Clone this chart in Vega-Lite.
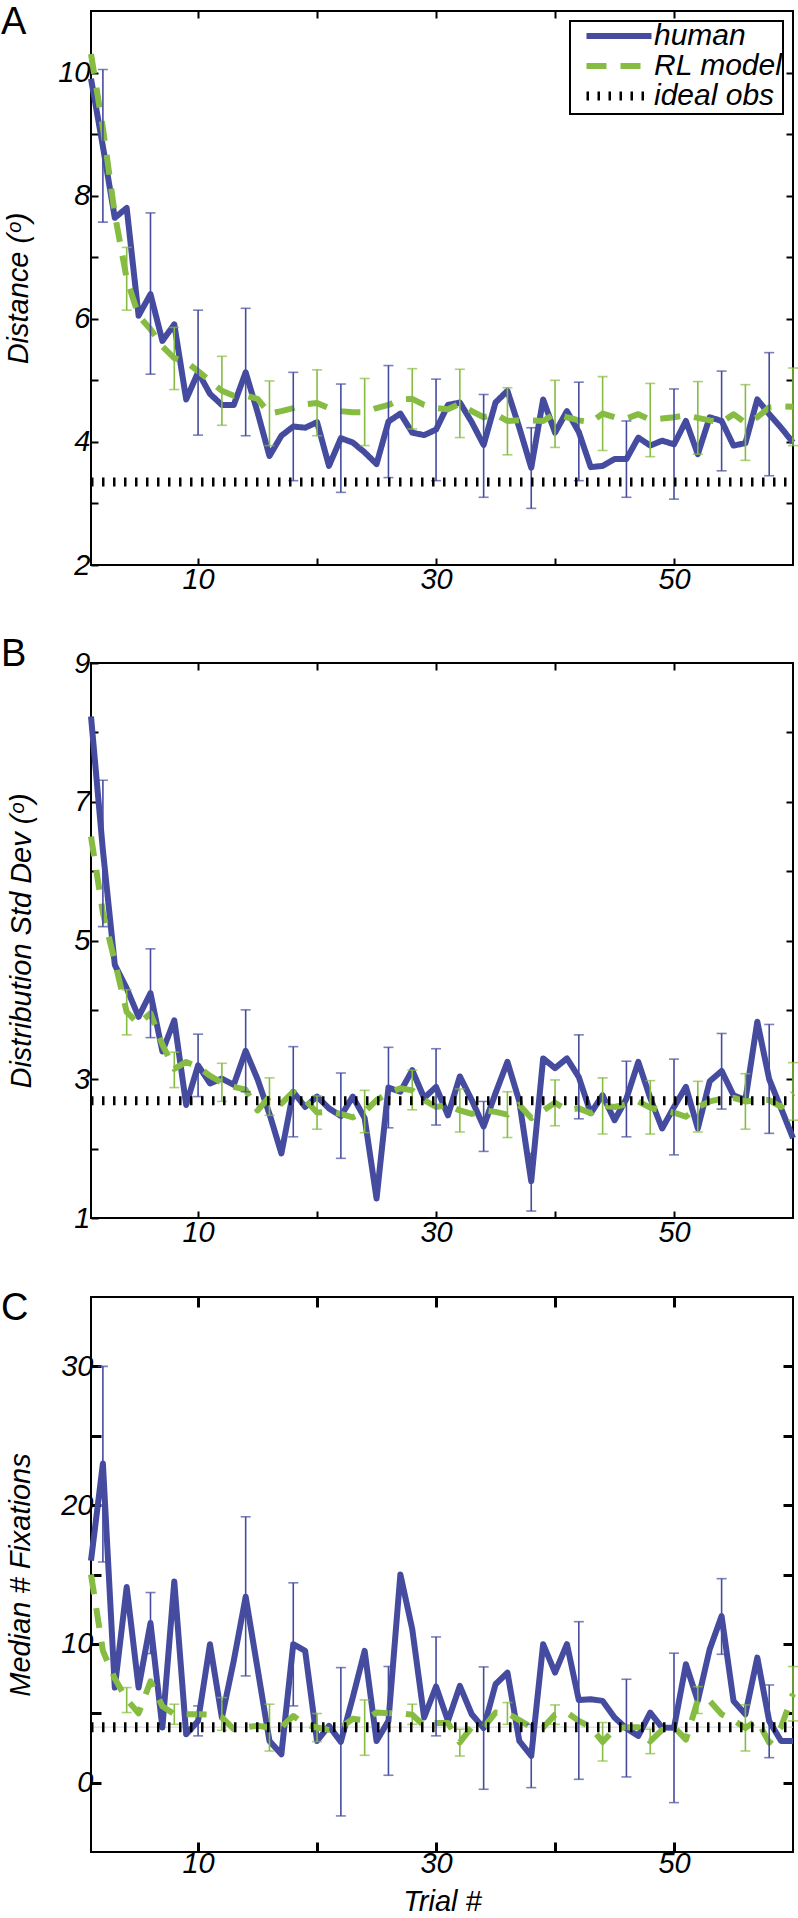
{
  "$schema": "https://vega.github.io/schema/vega-lite/v6.json",
  "padding": {"left": 0, "top": 3, "right": 6, "bottom": 0},
  "spacing": 40,
  "config": {
    "view": {"stroke": "black", "strokeWidth": 2},
    "axis": {
      "labelFont": "Liberation Sans", "labelFontStyle": "italic", "labelFontSize": 29, "labelColor": "black",
      "titleFont": "Liberation Sans", "titleFontStyle": "italic", "titleFontWeight": "normal", "titleFontSize": 29, "titleColor": "black",
      "tickColor": "black", "tickWidth": 2, "tickSize": -7, "domain": false, "grid": false
    },
    "axisX": {"labelPadding": 7},
    "axisY": {"labelPadding": 8},
    "legend": {"title": null, "orient": "top-right", "offset": 10, "symbolType": "M-16.25,0H16.25", "symbolSize": 16, "symbolFillColor": "transparent", "symbolOffset": 34, "labelFont": "Liberation Sans", "labelFontStyle": "italic", "labelFontSize": 30, "labelColor": "black", "strokeColor": "black", "fillColor": "white", "padding": 0, "rowPadding": -9, "labelOffset": 20, "labelLimit": 400},
    "title": {"font": "Liberation Sans", "fontSize": 38, "fontWeight": "normal", "color": "black", "anchor": "start", "frame": "group", "dx": -90, "baseline": "top"}
  },
  "resolve": {"scale": {"color": "independent", "strokeDash": "independent", "strokeWidth": "independent"}},
  "datasets": {
    "A": [
      {"t":1,"human":9.9,"RL model":10.3},{"t":2,"human":8.8,"RL model":9.1},{"t":3,"human":7.64,"RL model":7.7},{"t":4,"human":7.8,"RL model":6.65},{"t":5,"human":6.05,"RL model":6.05},
      {"t":6,"human":6.4,"RL model":5.83},{"t":7,"human":5.64,"RL model":5.55},{"t":8,"human":5.91,"RL model":5.36},{"t":9,"human":4.69,"RL model":5.3},{"t":10,"human":5.13,"RL model":5.15},
      {"t":11,"human":4.78,"RL model":4.99},{"t":12,"human":4.6,"RL model":4.83},{"t":13,"human":4.6,"RL model":4.75},{"t":14,"human":5.13,"RL model":4.75},{"t":15,"human":4.48,"RL model":4.7},
      {"t":16,"human":3.77,"RL model":4.46},{"t":17,"human":4.1,"RL model":4.5},{"t":18,"human":4.25,"RL model":4.55},{"t":19,"human":4.23,"RL model":4.61},{"t":20,"human":4.32,"RL model":4.63},
      {"t":21,"human":3.61,"RL model":4.55},{"t":22,"human":4.06,"RL model":4.5},{"t":23,"human":3.99,"RL model":4.48},{"t":24,"human":3.83,"RL model":4.48},{"t":25,"human":3.64,"RL model":4.55},
      {"t":26,"human":4.33,"RL model":4.6},{"t":27,"human":4.46,"RL model":4.69},{"t":28,"human":4.15,"RL model":4.7},{"t":29,"human":4.11,"RL model":4.6},{"t":30,"human":4.2,"RL model":4.55},
      {"t":31,"human":4.6,"RL model":4.53},{"t":32,"human":4.64,"RL model":4.62},{"t":33,"human":4.32,"RL model":4.5},{"t":34,"human":3.95,"RL model":4.4},{"t":35,"human":4.64,"RL model":4.45},
      {"t":36,"human":4.83,"RL model":4.34},{"t":37,"human":4.23,"RL model":4.35},{"t":38,"human":3.58,"RL model":4.35},{"t":39,"human":4.69,"RL model":4.34},{"t":40,"human":4.15,"RL model":4.46},
      {"t":41,"human":4.5,"RL model":4.4},{"t":42,"human":4.16,"RL model":4.35},{"t":43,"human":3.59,"RL model":4.32},{"t":44,"human":3.61,"RL model":4.46},{"t":45,"human":3.72,"RL model":4.4},
      {"t":46,"human":3.72,"RL model":4.38},{"t":47,"human":4.07,"RL model":4.45},{"t":48,"human":3.94,"RL model":4.36},{"t":49,"human":4.02,"RL model":4.38},{"t":50,"human":3.96,"RL model":4.4},
      {"t":51,"human":4.34,"RL model":4.43},{"t":52,"human":3.8,"RL model":4.39},{"t":53,"human":4.4,"RL model":4.35},{"t":54,"human":4.34,"RL model":4.32},{"t":55,"human":3.94,"RL model":4.45},
      {"t":56,"human":3.98,"RL model":4.31},{"t":57,"human":4.69,"RL model":4.4},{"t":58,"human":4.45,"RL model":4.56},{"t":59,"human":4.23,"RL model":4.58},{"t":60,"human":3.99,"RL model":4.57}
    ],
    "errA": [
      {"t":2,"s":"human","lo":7.57,"hi":10.05},{"t":6,"s":"human","lo":5.1,"hi":7.72},{"t":10,"s":"human","lo":4.11,"hi":6.14},{"t":14,"s":"human","lo":4.1,"hi":6.17},{"t":18,"s":"human","lo":3.37,"hi":5.13},
      {"t":22,"s":"human","lo":3.18,"hi":4.94},{"t":26,"s":"human","lo":3.42,"hi":5.24},{"t":30,"s":"human","lo":3.37,"hi":5.02},{"t":34,"s":"human","lo":3.1,"hi":4.77},{"t":38,"s":"human","lo":2.92,"hi":4.23},
      {"t":42,"s":"human","lo":3.37,"hi":4.97},{"t":46,"s":"human","lo":3.1,"hi":4.34},{"t":50,"s":"human","lo":3.07,"hi":4.86},{"t":54,"s":"human","lo":3.53,"hi":5.15},{"t":58,"s":"human","lo":3.45,"hi":5.45},
      {"t":4,"s":"model","lo":6.14,"hi":7.16},{"t":8,"s":"model","lo":4.85,"hi":5.86},{"t":12,"s":"model","lo":4.27,"hi":5.39},{"t":16,"s":"model","lo":3.94,"hi":4.99},{"t":20,"s":"model","lo":4.1,"hi":5.17},
      {"t":24,"s":"model","lo":3.94,"hi":5.03},{"t":28,"s":"model","lo":4.21,"hi":5.19},{"t":32,"s":"model","lo":4.07,"hi":5.18},{"t":36,"s":"model","lo":3.79,"hi":4.88},{"t":40,"s":"model","lo":3.91,"hi":5.0},
      {"t":44,"s":"model","lo":3.86,"hi":5.06},{"t":48,"s":"model","lo":3.76,"hi":4.95},{"t":52,"s":"model","lo":3.8,"hi":4.98},{"t":56,"s":"model","lo":3.7,"hi":4.93},{"t":60,"s":"model","lo":3.94,"hi":5.2}
    ],
    "idealA": [{"t":1,"series":"ideal obs","value":3.35},{"t":60,"series":"ideal obs","value":3.35}],
    "B": [
      {"t":1,"human":8.23,"RL model":6.5},{"t":2,"human":6.3,"RL model":5.4},{"t":3,"human":4.65,"RL model":4.7},{"t":4,"human":4.31,"RL model":3.97},{"t":5,"human":3.9,"RL model":3.8},
      {"t":6,"human":4.24,"RL model":3.95},{"t":7,"human":3.4,"RL model":3.5},{"t":8,"human":3.85,"RL model":3.15},{"t":9,"human":2.63,"RL model":3.25},{"t":10,"human":3.2,"RL model":3.18},
      {"t":11,"human":2.94,"RL model":3.05},{"t":12,"human":3.01,"RL model":2.95},{"t":13,"human":2.92,"RL model":2.89},{"t":14,"human":3.41,"RL model":2.85},{"t":15,"human":3.0,"RL model":2.55},
      {"t":16,"human":2.5,"RL model":2.75},{"t":17,"human":1.93,"RL model":2.65},{"t":18,"human":2.82,"RL model":2.82},{"t":19,"human":2.6,"RL model":2.7},{"t":20,"human":2.75,"RL model":2.52},
      {"t":21,"human":2.58,"RL model":2.53},{"t":22,"human":2.47,"RL model":2.5},{"t":23,"human":2.75,"RL model":2.45},{"t":24,"human":2.44,"RL model":2.53},{"t":25,"human":1.28,"RL model":2.7},
      {"t":26,"human":2.88,"RL model":2.8},{"t":27,"human":2.82,"RL model":2.87},{"t":28,"human":3.13,"RL model":2.84},{"t":29,"human":2.73,"RL model":2.7},{"t":30,"human":2.89,"RL model":2.6},
      {"t":31,"human":2.48,"RL model":2.63},{"t":32,"human":3.04,"RL model":2.55},{"t":33,"human":2.7,"RL model":2.5},{"t":34,"human":2.32,"RL model":2.55},{"t":35,"human":2.8,"RL model":2.53},
      {"t":36,"human":3.25,"RL model":2.49},{"t":37,"human":2.68,"RL model":2.63},{"t":38,"human":1.53,"RL model":2.44},{"t":39,"human":3.3,"RL model":2.55},{"t":40,"human":3.16,"RL model":2.66},
      {"t":41,"human":3.3,"RL model":2.56},{"t":42,"human":3.03,"RL model":2.58},{"t":43,"human":2.51,"RL model":2.51},{"t":44,"human":2.77,"RL model":2.62},{"t":45,"human":2.41,"RL model":2.6},
      {"t":46,"human":2.72,"RL model":2.64},{"t":47,"human":3.25,"RL model":2.68},{"t":48,"human":2.73,"RL model":2.59},{"t":49,"human":2.29,"RL model":2.55},{"t":50,"human":2.6,"RL model":2.52},
      {"t":51,"human":2.89,"RL model":2.46},{"t":52,"human":2.29,"RL model":2.6},{"t":53,"human":2.97,"RL model":2.68},{"t":54,"human":3.12,"RL model":2.72},{"t":55,"human":2.77,"RL model":2.73},
      {"t":56,"human":2.7,"RL model":2.68},{"t":57,"human":3.83,"RL model":2.7},{"t":58,"human":3.0,"RL model":2.7},{"t":59,"human":2.58,"RL model":2.6},{"t":60,"human":2.15,"RL model":2.8}
    ],
    "errB": [
      {"t":2,"s":"human","lo":5.2,"hi":7.31},{"t":6,"s":"human","lo":3.6,"hi":4.88},{"t":10,"s":"human","lo":2.75,"hi":3.65},{"t":14,"s":"human","lo":2.82,"hi":4.0},{"t":18,"s":"human","lo":2.17,"hi":3.47},
      {"t":22,"s":"human","lo":1.86,"hi":3.09},{"t":26,"s":"human","lo":2.3,"hi":3.46},{"t":30,"s":"human","lo":2.34,"hi":3.44},{"t":34,"s":"human","lo":1.96,"hi":2.68},{"t":38,"s":"human","lo":1.1,"hi":1.93},
      {"t":42,"s":"human","lo":2.43,"hi":3.64},{"t":46,"s":"human","lo":2.17,"hi":3.26},{"t":50,"s":"human","lo":1.91,"hi":3.29},{"t":54,"s":"human","lo":2.57,"hi":3.66},{"t":58,"s":"human","lo":2.22,"hi":3.79},
      {"t":4,"s":"model","lo":3.64,"hi":4.29},{"t":8,"s":"model","lo":2.88,"hi":3.39},{"t":12,"s":"model","lo":2.68,"hi":3.23},{"t":16,"s":"model","lo":2.48,"hi":3.02},{"t":20,"s":"model","lo":2.28,"hi":2.76},
      {"t":24,"s":"model","lo":2.23,"hi":2.84},{"t":28,"s":"model","lo":2.56,"hi":3.13},{"t":32,"s":"model","lo":2.24,"hi":2.86},{"t":36,"s":"model","lo":2.16,"hi":2.82},{"t":40,"s":"model","lo":2.33,"hi":2.99},
      {"t":44,"s":"model","lo":2.21,"hi":3.02},{"t":48,"s":"model","lo":2.21,"hi":2.98},{"t":52,"s":"model","lo":2.24,"hi":2.97},{"t":56,"s":"model","lo":2.28,"hi":3.08},{"t":60,"s":"model","lo":2.41,"hi":3.24}
    ],
    "idealB": [{"t":1,"value":2.69},{"t":60,"value":2.69}],
    "C": [
      {"t":1,"human":16,"RL model":15},{"t":2,"human":23,"RL model":9.5},{"t":3,"human":6.85,"RL model":7.5},{"t":4,"human":14.1,"RL model":6.0},{"t":5,"human":6.85,"RL model":5.0},
      {"t":6,"human":11.5,"RL model":7.3},{"t":7,"human":3.97,"RL model":5.5},{"t":8,"human":14.5,"RL model":4.93},{"t":9,"human":3.49,"RL model":4.93},{"t":10,"human":4.45,"RL model":4.93},
      {"t":11,"human":9.98,"RL model":4.9},{"t":12,"human":4.69,"RL model":4.7},{"t":13,"human":8.8,"RL model":3.85},{"t":14,"human":13.4,"RL model":4.0},{"t":15,"human":8.2,"RL model":4.1},
      {"t":16,"human":3.0,"RL model":3.97},{"t":17,"human":2.04,"RL model":4.0},{"t":18,"human":9.98,"RL model":4.8},{"t":19,"human":9.5,"RL model":4.2},{"t":20,"human":3.0,"RL model":3.97},
      {"t":21,"human":4.09,"RL model":3.8},{"t":22,"human":2.94,"RL model":3.97},{"t":23,"human":6.13,"RL model":4.6},{"t":24,"human":9.5,"RL model":4.5},{"t":25,"human":3.0,"RL model":5.05},
      {"t":26,"human":4.45,"RL model":5.0},{"t":27,"human":15,"RL model":5.0},{"t":28,"human":11.06,"RL model":4.9},{"t":29,"human":4.69,"RL model":4.09},{"t":30,"human":6.93,"RL model":4.3},
      {"t":31,"human":4.45,"RL model":4.3},{"t":32,"human":6.97,"RL model":2.9},{"t":33,"human":4.93,"RL model":4.0},{"t":34,"human":3.93,"RL model":3.97},{"t":35,"human":7.09,"RL model":5.05},
      {"t":36,"human":7.93,"RL model":5.0},{"t":37,"human":3.0,"RL model":4.5},{"t":38,"human":1.92,"RL model":4.0},{"t":39,"human":9.98,"RL model":3.97},{"t":40,"human":7.93,"RL model":4.9},
      {"t":41,"human":9.98,"RL model":5.05},{"t":42,"human":5.95,"RL model":4.45},{"t":43,"human":6.01,"RL model":4.0},{"t":44,"human":5.89,"RL model":2.94},{"t":45,"human":4.69,"RL model":3.85},
      {"t":46,"human":3.9,"RL model":4.0},{"t":47,"human":3.37,"RL model":4.0},{"t":48,"human":5.05,"RL model":2.97},{"t":49,"human":3.97,"RL model":3.8},{"t":50,"human":3.95,"RL model":4.0},
      {"t":51,"human":8.53,"RL model":3.1},{"t":52,"human":5.89,"RL model":5.95},{"t":53,"human":9.62,"RL model":5.89},{"t":54,"human":12.0,"RL model":4.93},{"t":55,"human":5.89,"RL model":4.5},
      {"t":56,"human":4.93,"RL model":3.94},{"t":57,"human":9.01,"RL model":4.5},{"t":58,"human":4.43,"RL model":2.88},{"t":59,"human":3.0,"RL model":4.0},{"t":60,"human":3.0,"RL model":6.4}
    ],
    "errC": [
      {"t":2,"s":"human","lo":15.9,"hi":30.0},{"t":6,"s":"human","lo":9.3,"hi":13.7},{"t":10,"s":"human","lo":3.37,"hi":5.53},{"t":14,"s":"human","lo":7.69,"hi":19.16},{"t":18,"s":"human","lo":5.53,"hi":14.4},
      {"t":22,"s":"human","lo":-2.4,"hi":8.29},{"t":26,"s":"human","lo":0.53,"hi":8.37},{"t":30,"s":"human","lo":3.37,"hi":10.5},{"t":34,"s":"human","lo":-0.48,"hi":8.34},{"t":38,"s":"human","lo":-0.36,"hi":4.2},
      {"t":42,"s":"human","lo":0.24,"hi":11.6},{"t":46,"s":"human","lo":0.41,"hi":7.45},{"t":50,"s":"human","lo":-1.44,"hi":9.33},{"t":54,"s":"human","lo":9.25,"hi":14.7},{"t":58,"s":"human","lo":1.8,"hi":7.04},
      {"t":4,"s":"model","lo":5.05,"hi":6.85},{"t":8,"s":"model","lo":4.2,"hi":5.65},{"t":12,"s":"model","lo":3.77,"hi":6.13},{"t":16,"s":"model","lo":2.28,"hi":5.65},{"t":20,"s":"model","lo":2.96,"hi":4.98},
      {"t":24,"s":"model","lo":1.97,"hi":5.96},{"t":28,"s":"model","lo":4.2,"hi":5.65},{"t":32,"s":"model","lo":1.92,"hi":3.85},{"t":36,"s":"model","lo":4.2,"hi":5.77},{"t":40,"s":"model","lo":4.2,"hi":5.6},
      {"t":44,"s":"model","lo":1.56,"hi":4.33},{"t":48,"s":"model","lo":2.09,"hi":3.85},{"t":52,"s":"model","lo":4.98,"hi":6.92},{"t":56,"s":"model","lo":2.28,"hi":5.6},{"t":60,"s":"model","lo":4.45,"hi":8.37}
    ],
    "idealC": [{"t":1,"value":4.0},{"t":60,"value":4.0}]
  },
  "vconcat": [
    {
      "width": 702, "height": 554,
      "title": {"text": "A", "offset": -32},
      "resolve": {"axis": {"x": "independent", "y": "independent"}},
      "layer": [
        {
          "data": {"name": "A"},
          "transform": [{"fold": ["human", "RL model"], "as": ["series", "value"]}],
          "mark": {"type": "line", "strokeCap": "butt", "strokeJoin": "round"},
          "encoding": {
            "x": {"field": "t", "type": "quantitative", "scale": {"domain": [1, 60], "nice": false, "zero": false},
                  "axis": {"orient": "bottom", "values": [10, 20, 30, 40, 50], "labelExpr": "datum.value % 20 == 10 ? datum.label : ''", "title": null}},
            "y": {"field": "value", "type": "quantitative", "scale": {"domain": [2, 11], "nice": false, "zero": false},
                  "axis": {"orient": "left", "values": [2, 3, 4, 5, 6, 7, 8, 9, 10], "labelExpr": "datum.value % 2 == 0 ? datum.label : ''", "title": "Distance (ᵒ)", "titlePadding": 24}},
            "color": {"field": "series", "type": "nominal", "scale": {"domain": ["human", "RL model", "ideal obs"], "range": ["#454C9F", "#86BC42", "#000000"]}, "legend": {"encode": {"legend": {"update": {"strokeWidth": {"value": 2}}}}}},
            "strokeDash": {"field": "series", "type": "nominal", "scale": {"domain": ["human", "RL model", "ideal obs"], "range": [[1, 0], [20, 14], [2.5, 8.5]]}, "legend": {"encode": {"legend": {"update": {"strokeWidth": {"value": 2}}}}}},
            "strokeWidth": {"field": "series", "type": "nominal", "scale": {"type": "ordinal", "domain": ["human", "RL model", "ideal obs"], "range": [6, 6, 9]}, "legend": {"encode": {"legend": {"update": {"strokeWidth": {"value": 2}}}}}}
          }
        },
        {
          "data": {"name": "errA"},
          "transform": [{"filter": "datum.s == 'human'"}],
          "mark": {"type": "errorbar", "ticks": true, "size": 10, "thickness": 1.6, "color": "#454C9F"},
          "encoding": {
            "x": {"field": "t", "type": "quantitative", "scale": {"domain": [1, 60], "nice": false, "zero": false}, "axis": null},
            "y": {"field": "lo", "type": "quantitative", "scale": {"domain": [2, 11], "nice": false, "zero": false}, "axis": null},
            "y2": {"field": "hi"}
          }
        },
        {
          "data": {"name": "errA"},
          "transform": [{"filter": "datum.s == 'model'"}],
          "mark": {"type": "errorbar", "ticks": true, "size": 10, "thickness": 1.6, "color": "#86BC42"},
          "encoding": {
            "x": {"field": "t", "type": "quantitative", "scale": {"domain": [1, 60], "nice": false, "zero": false}, "axis": null},
            "y": {"field": "lo", "type": "quantitative", "scale": {"domain": [2, 11], "nice": false, "zero": false}, "axis": null},
            "y2": {"field": "hi"}
          }
        },
        {
          "data": {"name": "idealA"},
          "mark": {"type": "line", "strokeCap": "butt"},
          "encoding": {
            "x": {"field": "t", "type": "quantitative", "scale": {"domain": [1, 60], "nice": false, "zero": false},
                  "axis": {"orient": "top", "values": [10, 20, 30, 40, 50], "labels": false, "title": null}},
            "y": {"field": "value", "type": "quantitative", "scale": {"domain": [2, 11], "nice": false, "zero": false},
                  "axis": {"orient": "right", "values": [3, 4, 5, 6, 7, 8, 9, 10], "labels": false, "title": null}},
            "color": {"field": "series", "type": "nominal", "scale": {"domain": ["human", "RL model", "ideal obs"], "range": ["#454C9F", "#86BC42", "#000000"]}, "legend": {"encode": {"legend": {"update": {"strokeWidth": {"value": 2}}}}}},
            "strokeDash": {"field": "series", "type": "nominal", "scale": {"domain": ["human", "RL model", "ideal obs"], "range": [[1, 0], [20, 14], [2.5, 8.5]]}, "legend": {"encode": {"legend": {"update": {"strokeWidth": {"value": 2}}}}}},
            "strokeWidth": {"field": "series", "type": "nominal", "scale": {"type": "ordinal", "domain": ["human", "RL model", "ideal obs"], "range": [6, 6, 9]}, "legend": {"encode": {"legend": {"update": {"strokeWidth": {"value": 2}}}}}}
          }
        }
      ]
    },
    {
      "width": 702, "height": 555,
      "title": {"text": "B", "offset": -25},
      "resolve": {"axis": {"x": "independent", "y": "independent"}},
      "layer": [
        {
          "data": {"name": "B"},
          "mark": {"type": "line", "strokeCap": "butt", "strokeJoin": "round", "color": "#454C9F", "strokeWidth": 6},
          "encoding": {
            "x": {"field": "t", "type": "quantitative", "scale": {"domain": [1, 60], "nice": false, "zero": false},
                  "axis": {"orient": "bottom", "values": [10, 20, 30, 40, 50], "labelExpr": "datum.value % 20 == 10 ? datum.label : ''", "title": null}},
            "y": {"field": "human", "type": "quantitative", "scale": {"domain": [1, 9], "nice": false, "zero": false},
                  "axis": {"orient": "left", "values": [1, 2, 3, 4, 5, 6, 7, 8, 9], "labelExpr": "datum.value % 2 == 1 ? datum.label : ''", "title": "Distribution Std Dev (ᵒ)", "titlePadding": 37}}
          }
        },
        {
          "data": {"name": "B"},
          "mark": {"type": "line", "strokeCap": "butt", "strokeJoin": "round", "color": "#86BC42", "strokeWidth": 6, "strokeDash": [20, 14]},
          "encoding": {
            "x": {"field": "t", "type": "quantitative", "scale": {"domain": [1, 60], "nice": false, "zero": false}, "axis": null},
            "y": {"field": "RL model", "type": "quantitative", "scale": {"domain": [1, 9], "nice": false, "zero": false}, "axis": null}
          }
        },
        {
          "data": {"name": "errB"},
          "transform": [{"filter": "datum.s == 'human'"}],
          "mark": {"type": "errorbar", "ticks": true, "size": 10, "thickness": 1.6, "color": "#454C9F"},
          "encoding": {
            "x": {"field": "t", "type": "quantitative", "scale": {"domain": [1, 60], "nice": false, "zero": false}, "axis": null},
            "y": {"field": "lo", "type": "quantitative", "scale": {"domain": [1, 9], "nice": false, "zero": false}, "axis": null},
            "y2": {"field": "hi"}
          }
        },
        {
          "data": {"name": "errB"},
          "transform": [{"filter": "datum.s == 'model'"}],
          "mark": {"type": "errorbar", "ticks": true, "size": 10, "thickness": 1.6, "color": "#86BC42"},
          "encoding": {
            "x": {"field": "t", "type": "quantitative", "scale": {"domain": [1, 60], "nice": false, "zero": false}, "axis": null},
            "y": {"field": "lo", "type": "quantitative", "scale": {"domain": [1, 9], "nice": false, "zero": false}, "axis": null},
            "y2": {"field": "hi"}
          }
        },
        {
          "data": {"name": "idealB"},
          "mark": {"type": "line", "strokeCap": "butt", "color": "black", "strokeWidth": 9, "strokeDash": [2.5, 8.5]},
          "encoding": {
            "x": {"field": "t", "type": "quantitative", "scale": {"domain": [1, 60], "nice": false, "zero": false},
                  "axis": {"orient": "top", "values": [10, 20, 30, 40, 50], "labels": false, "title": null}},
            "y": {"field": "value", "type": "quantitative", "scale": {"domain": [1, 9], "nice": false, "zero": false},
                  "axis": {"orient": "right", "values": [2, 3, 4, 5, 6, 7, 8], "labels": false, "title": null}}
          }
        }
      ]
    },
    {
      "width": 702, "height": 555,
      "title": {"text": "C", "offset": -32},
      "resolve": {"axis": {"x": "independent", "y": "independent"}},
      "layer": [
        {
          "data": {"name": "idealC"},
          "mark": {"type": "line", "color": "#d0d0d0", "strokeWidth": 1},
          "encoding": {
            "x": {"field": "t", "type": "quantitative", "scale": {"domain": [1, 60], "nice": false, "zero": false}, "axis": null},
            "y": {"field": "value", "type": "quantitative", "scale": {"domain": [-5, 35], "nice": false, "zero": false}, "axis": null}
          }
        },
        {
          "data": {"name": "C"},
          "mark": {"type": "line", "strokeCap": "butt", "strokeJoin": "round", "color": "#454C9F", "strokeWidth": 6},
          "encoding": {
            "x": {"field": "t", "type": "quantitative", "scale": {"domain": [1, 60], "nice": false, "zero": false},
                  "axis": {"orient": "bottom", "values": [10, 20, 30, 40, 50], "labelExpr": "datum.value % 20 == 10 ? datum.label : ''", "title": "Trial #", "titlePadding": 9, "tickSize": -10, "tickWidth": 3}},
            "y": {"field": "human", "type": "quantitative", "scale": {"domain": [-5, 35], "nice": false, "zero": false},
                  "axis": {"orient": "left", "values": [0, 5, 10, 15, 20, 25, 30], "labelExpr": "datum.value % 10 == 0 ? datum.label : ''", "title": "Median # Fixations", "titlePadding": 25, "tickSize": -10, "tickWidth": 3}}
          }
        },
        {
          "data": {"name": "C"},
          "mark": {"type": "line", "strokeCap": "butt", "strokeJoin": "round", "color": "#86BC42", "strokeWidth": 6, "strokeDash": [20, 14]},
          "encoding": {
            "x": {"field": "t", "type": "quantitative", "scale": {"domain": [1, 60], "nice": false, "zero": false}, "axis": null},
            "y": {"field": "RL model", "type": "quantitative", "scale": {"domain": [-5, 35], "nice": false, "zero": false}, "axis": null}
          }
        },
        {
          "data": {"name": "errC"},
          "transform": [{"filter": "datum.s == 'human'"}],
          "mark": {"type": "errorbar", "ticks": true, "size": 10, "thickness": 1.6, "color": "#454C9F"},
          "encoding": {
            "x": {"field": "t", "type": "quantitative", "scale": {"domain": [1, 60], "nice": false, "zero": false}, "axis": null},
            "y": {"field": "lo", "type": "quantitative", "scale": {"domain": [-5, 35], "nice": false, "zero": false}, "axis": null},
            "y2": {"field": "hi"}
          }
        },
        {
          "data": {"name": "errC"},
          "transform": [{"filter": "datum.s == 'model'"}],
          "mark": {"type": "errorbar", "ticks": true, "size": 10, "thickness": 1.6, "color": "#86BC42"},
          "encoding": {
            "x": {"field": "t", "type": "quantitative", "scale": {"domain": [1, 60], "nice": false, "zero": false}, "axis": null},
            "y": {"field": "lo", "type": "quantitative", "scale": {"domain": [-5, 35], "nice": false, "zero": false}, "axis": null},
            "y2": {"field": "hi"}
          }
        },
        {
          "data": {"name": "idealC"},
          "mark": {"type": "line", "strokeCap": "butt", "color": "black", "strokeWidth": 10, "strokeDash": [2.5, 8.5]},
          "encoding": {
            "x": {"field": "t", "type": "quantitative", "scale": {"domain": [1, 60], "nice": false, "zero": false},
                  "axis": {"orient": "top", "values": [10, 20, 30, 40, 50], "labels": false, "title": null, "tickSize": -10, "tickWidth": 3}},
            "y": {"field": "value", "type": "quantitative", "scale": {"domain": [-5, 35], "nice": false, "zero": false},
                  "axis": {"orient": "right", "values": [0, 5, 10, 15, 20, 25, 30], "labels": false, "title": null, "tickSize": -10, "tickWidth": 3}}
          }
        }
      ]
    }
  ]
}
